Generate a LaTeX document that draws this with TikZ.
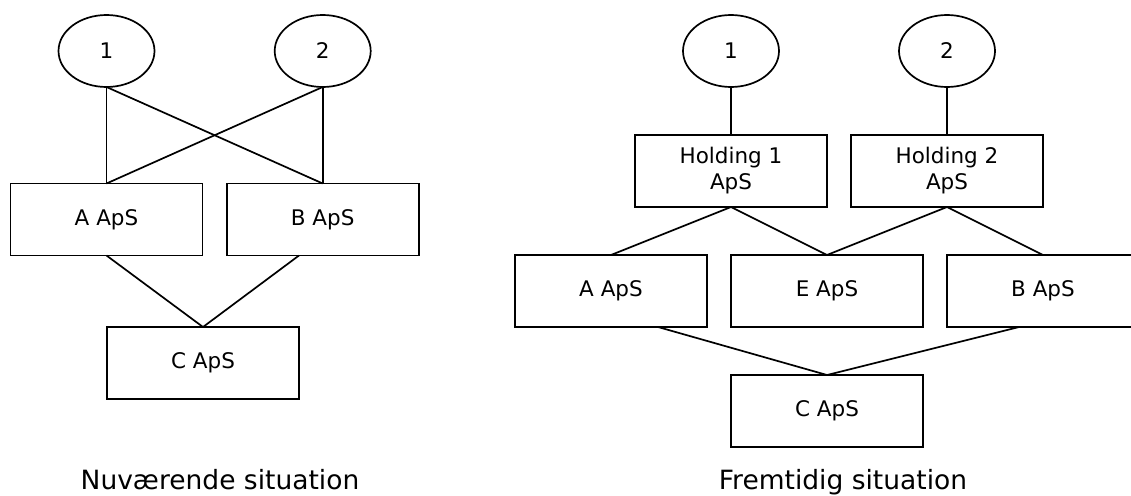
\documentclass[tikz,border=0pt]{standalone}
\usepackage{fontspec}
\setmainfont{DejaVu Sans}
\usepackage{tikz}
\usetikzlibrary{shapes.geometric}

\begin{document}
\begin{tikzpicture} [x=1pt, y=-1pt, line width=1.7pt,
  firma/.style={draw, inner sep=0, outer sep=0, minimum width=192pt, minimum height=72pt, align=center, font=\fontsize{21.5}{26}\selectfont},
  ejer/.style={draw, ellipse, inner sep=0, outer sep=0, minimum width=96pt, minimum height=72pt, font=\fontsize{21.5}{26}\selectfont},
  titel/.style={anchor=base, inner sep=0, font=\fontsize{26.5}{31}\selectfont}]
\useasboundingbox (0,0) rectangle (1131,495);
% nuvaerende situation
\node[ejer] (e1) at (106.5,51) {1}; \node[ejer] (e2) at (322.7,51) {2};
\node[firma] (a) at (106.5,219.5) {A ApS}; \node[firma] (b) at (322.7,219.5) {B ApS};
\node[firma] (c) at (203,363) {C ApS};
\draw (e1.south)--(a.north); \draw (e1.south)--(b.north);
\draw (e2.south)--(a.north); \draw (e2.south)--(b.north);
\draw (a.south)--(c.north); \draw ([xshift=-23.7pt]b.south)--(c.north);
\node[titel] (t1) at (220,489) {Nuværende situation};
% fremtidig situation
\node[ejer] (f1) at (731,51) {1}; \node[ejer] (f2) at (947,51) {2};
\node[firma] (h1) at (731,171) {Holding 1\\ApS}; \node[firma] (h2) at (947,171) {Holding 2\\ApS};
\node[firma] (fa) at (611,291) {A ApS}; \node[firma] (fe) at (827,291) {E ApS}; \node[firma] (fb) at (1043,291) {B ApS};
\node[firma] (fc) at (827,411) {C ApS};
\draw (f1.south)--(h1.north); \draw (f2.south)--(h2.north);
\draw (h1.south)--(fa.north); \draw (h1.south)--(fe.north);
\draw (h2.south)--(fe.north); \draw (h2.south)--(fb.north);
\draw ([xshift=47pt]fa.south)--(fc.north); \draw ([xshift=-24pt]fb.south)--(fc.north);
\node[titel] (t2) at (843,489) {Fremtidig situation};
\end{tikzpicture}
\end{document}
